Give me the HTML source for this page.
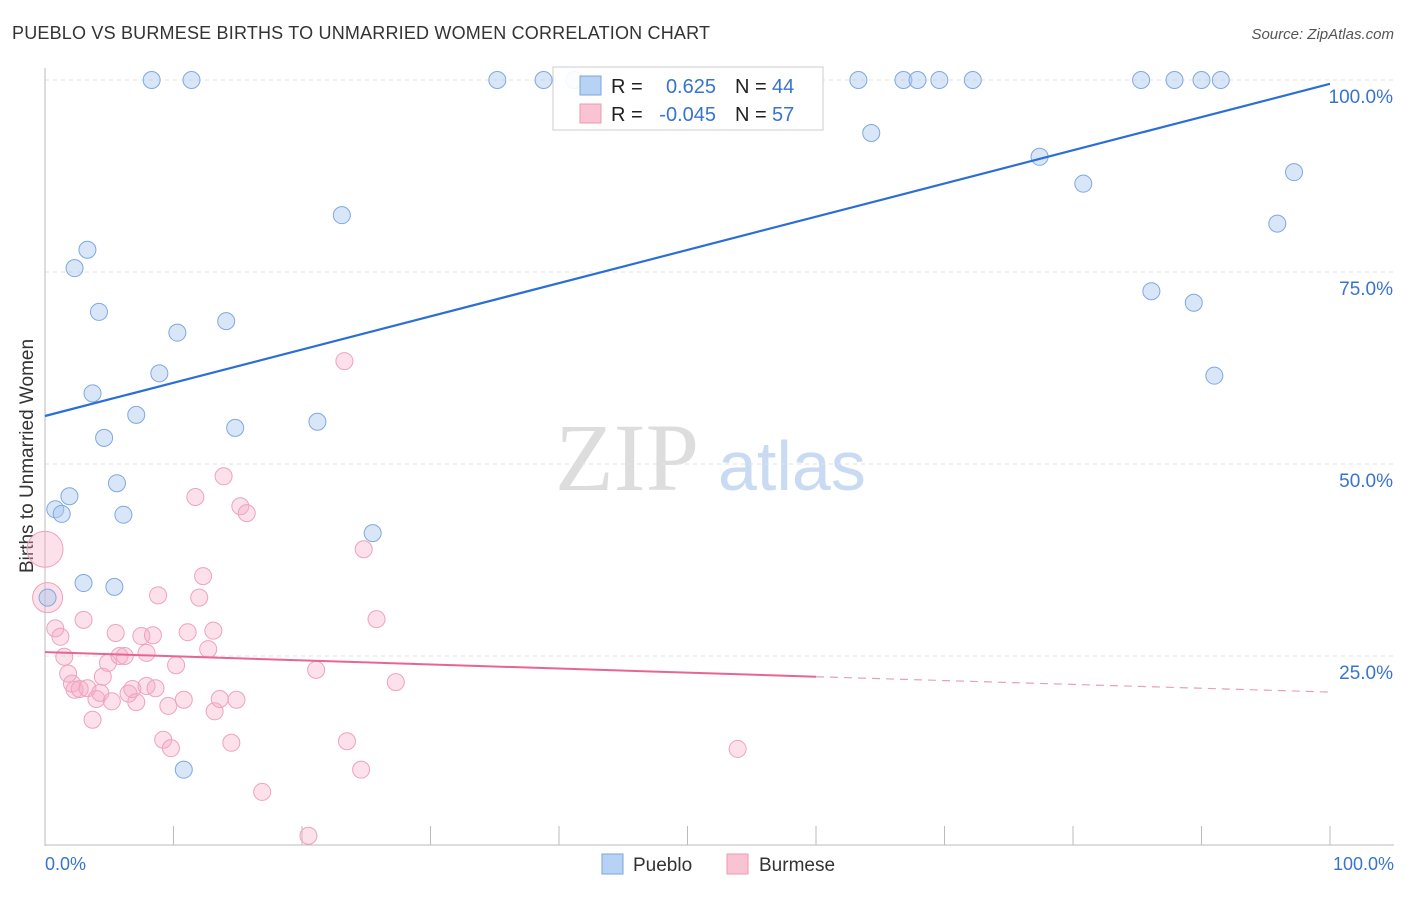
<!DOCTYPE html>
<html><head><meta charset="utf-8"><style>
body{margin:0;background:#fff;font-family:"Liberation Sans",sans-serif;}
svg text{font-family:"Liberation Sans",sans-serif;}
</style></head><body>
<svg id="chart" width="1406" height="892">
<text x="12" y="39" font-size="18" fill="#333" textLength="698">PUEBLO VS BURMESE BIRTHS TO UNMARRIED WOMEN CORRELATION CHART</text>
<text x="1394" y="39" font-size="15" fill="#555" text-anchor="end" font-style="italic">Source: ZipAtlas.com</text>
<text x="33" y="456" font-size="19" fill="#333" text-anchor="middle" transform="rotate(-90 33 456)">Births to Unmarried Women</text>
<text x="555" y="490" font-size="96" fill="#ddd" style="font-family:'Liberation Serif',serif">ZIP</text>
<text x="718" y="490" font-size="70" fill="#c9dbf3">atlas</text>
<g id="grid"></g><g id="pts"></g><g id="lines"></g>
<g>
<rect x="553" y="67" width="270" height="63" fill="#fff" fill-opacity="0.9" stroke="#ccc"/>
<rect x="580" y="76" width="21" height="19" fill="#b7d2f3" stroke="#7aa7e0"/>
<rect x="580" y="104" width="21" height="19" fill="#f9c3d3" stroke="#ee9ab5"/>
<text x="611" y="93" font-size="20" fill="#222">R =</text><text x="716" y="93" font-size="20" fill="#3874cf" text-anchor="end">0.625</text>
<text x="735" y="93" font-size="20" fill="#222">N =</text><text x="772" y="93" font-size="20" fill="#3874cf">44</text>
<text x="611" y="121" font-size="20" fill="#222">R =</text><text x="716" y="121" font-size="20" fill="#3874cf" text-anchor="end">-0.045</text>
<text x="735" y="121" font-size="20" fill="#222">N =</text><text x="772" y="121" font-size="20" fill="#3874cf">57</text>
</g>
<g>
<rect x="602" y="854" width="21" height="20" fill="#b7d2f3" stroke="#7aa7e0"/>
<text x="633" y="871" font-size="19" fill="#333">Pueblo</text>
<rect x="727" y="854" width="21" height="20" fill="#f9c3d3" stroke="#ee9ab5"/>
<text x="759" y="871" font-size="19" fill="#333">Burmese</text>
</g>
</svg>
<script>
const blueX=[8.3,11.4,35.2,38.8,41.2,63.3,66.8,67.9,69.6,72.2,85.3,87.9,90.0,91.5,64.3,77.4,80.8,97.2,95.9,23.1,3.3,2.3,4.2,86.1,89.4,14.1,10.3,8.9,3.7,91.0,7.1,21.2,14.8,4.6,5.6,1.9,0.8,1.3,6.1,25.5,3.0,5.4,0.2,10.8];
const blueY=[100,100,100,100,100,100,100,100,100,100,100,100,100,100,93.1,90.0,86.5,88.0,81.3,82.4,77.9,75.5,69.8,72.5,71.0,68.6,67.1,61.8,59.2,61.5,56.4,55.5,54.7,53.4,47.5,45.8,44.1,43.5,43.4,41.0,34.5,34.0,32.6,10.2];
const pinkX=[0,0.2,0.8,1.2,3.0,1.5,1.8,2.1,2.3,2.7,3.3,3.7,4.0,4.3,4.5,4.9,5.2,5.5,5.8,6.2,6.5,6.8,7.1,7.5,7.9,7.9,8.4,8.6,8.8,9.2,9.6,9.8,10.2,10.8,11.1,11.7,12.0,12.3,12.7,13.1,13.2,13.6,13.9,14.5,14.9,15.2,15.7,16.9,20.5,21.1,23.3,23.5,24.6,24.8,25.8,27.3,53.9];
const pinkY=[38.9,32.6,28.6,27.5,29.7,24.9,22.7,21.4,20.6,20.7,20.8,16.7,19.4,20.2,22.3,24.1,19.1,28.0,25.0,25.0,20.1,20.7,19.0,27.6,25.4,21.1,27.7,20.8,32.9,14.1,18.5,13.0,23.8,19.3,28.1,45.7,32.6,35.4,25.9,28.3,17.8,19.4,48.4,13.7,19.3,44.5,43.6,7.3,1.6,23.2,63.4,13.9,10.2,38.9,29.8,21.6,12.9];
const pinkLarge=[18,15];
const blueTrend=[56.25,99.5];
const pinkTrend=[25.5,22.3,20.3];
const yTicks=[25,50,75,100];
const NS="http://www.w3.org/2000/svg";
const sx=v=>45+v*12.85, sy=v=>848-v*7.68;
function mk(t,a,p){const e=document.createElementNS(NS,t);for(const k in a)e.setAttribute(k,a[k]);p.appendChild(e);return e;}
const g=document.getElementById('grid');
yTicks.forEach(t=>{
 const l=mk('line',{x1:45,x2:1394,y1:sy(t),y2:sy(t),stroke:'#e2e2e2','stroke-dasharray':'4,4'},g);
 
 
 const tx=mk('text',{x:1393,y:sy(t)+23,'font-size':19,fill:'#3874cf','text-anchor':'end'},g);tx.textContent=t.toFixed(1)+'%';
 
 
});
mk('line',{x1:45,x2:45,y1:68,y2:846,stroke:'#bbb'},g);
mk('line',{x1:45,x2:1394,y1:845,y2:845,stroke:'#bbb'},g);
for(let i=0;i<=10;i++){mk('line',{x1:sx(i*10),x2:sx(i*10),y1:826,y2:845,stroke:'#bbb'},g);}
let t0=mk('text',{x:45,y:870,'font-size':18,fill:'#3874cf'},g);t0.textContent='0.0%';


let t1=mk('text',{x:1394,y:870,'font-size':18,fill:'#3874cf','text-anchor':'end'},g);t1.textContent='100.0%';


const P=document.getElementById('pts');
pinkX.forEach((x,i)=>{const r=i<pinkLarge.length?pinkLarge[i]:8.5;
 const c=mk('circle',{cx:sx(x),cy:sy(pinkY[i]),r:r,fill:'rgba(246,170,195,0.35)',stroke:'#eea3bb','stroke-width':1},P);
 
 });
blueX.forEach((x,i)=>{
 const c=mk('circle',{cx:sx(x),cy:sy(blueY[i]),r:8.5,fill:'rgba(170,200,240,0.45)',stroke:'#7ea9e0','stroke-width':1},P);
 
 });
const L=document.getElementById('lines');
const bl=mk('line',{x1:sx(0),y1:sy(blueTrend[0]),x2:sx(100),y2:sy(blueTrend[1]),stroke:'#2b6fd6','stroke-width':2.2},L);


const pl=mk('line',{x1:sx(0),y1:sy(pinkTrend[0]),x2:sx(60),y2:sy(pinkTrend[1]),stroke:'#e9658f','stroke-width':2},L);


const pd=mk('line',{x1:sx(60),y1:sy(pinkTrend[1]),x2:sx(100),y2:sy(pinkTrend[2]),stroke:'#e9a0b6','stroke-width':1.2,'stroke-dasharray':'8,6'},L);


</script>
</body></html>
